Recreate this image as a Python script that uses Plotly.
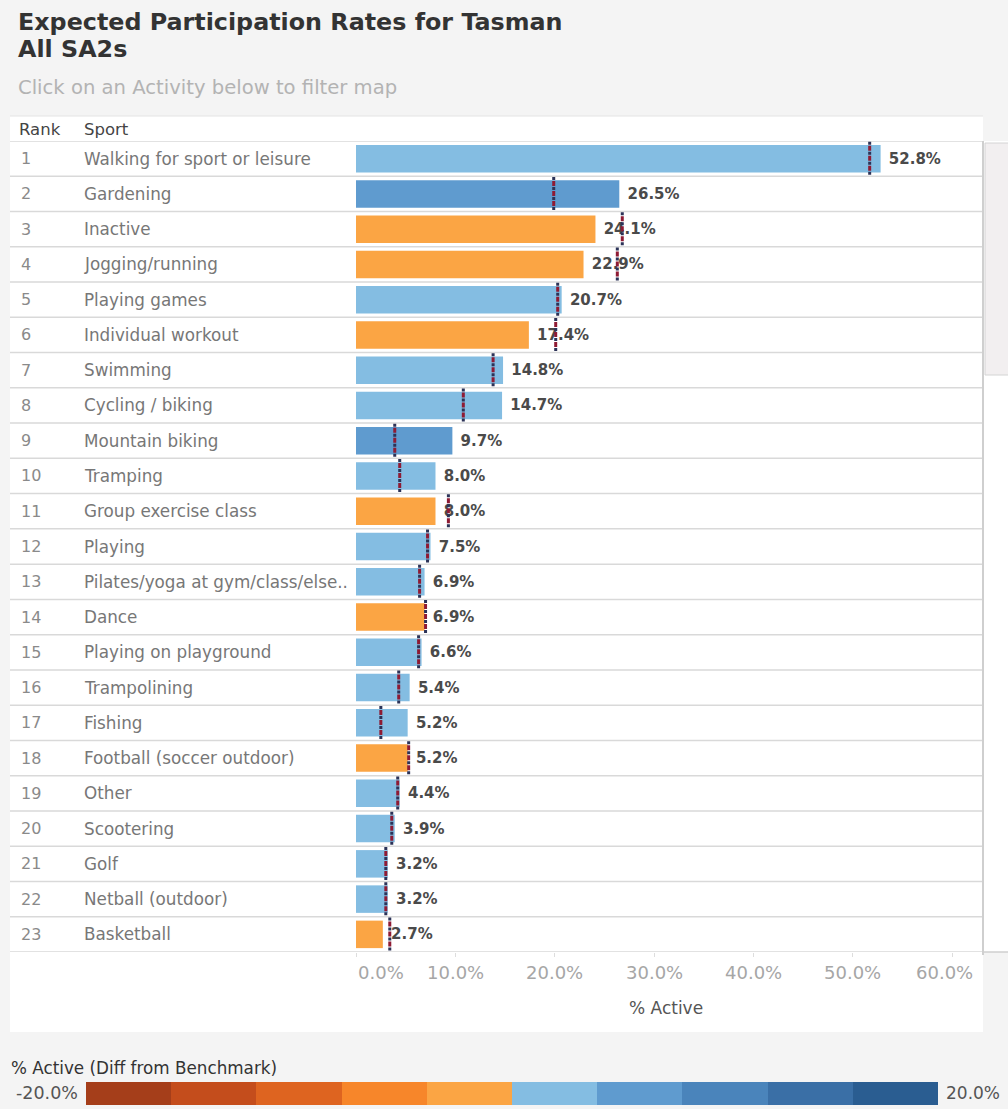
import plotly.graph_objects as go

# ---------------- data ----------------
ranks = list(range(1, 24))
sports = [
    "Walking for sport or leisure", "Gardening", "Inactive", "Jogging/running",
    "Playing games", "Individual workout", "Swimming", "Cycling / biking",
    "Mountain biking", "Tramping", "Group exercise class", "Playing",
    "Pilates/yoga at gym/class/else..", "Dance", "Playing on playground",
    "Trampolining", "Fishing", "Football (soccer outdoor)", "Other",
    "Scootering", "Golf", "Netball (outdoor)", "Basketball",
]
pct_active = [52.8, 26.5, 24.1, 22.9, 20.7, 17.4, 14.8, 14.7, 9.7, 8.0, 8.0, 7.5,
              6.9, 6.9, 6.6, 5.4, 5.2, 5.2, 4.4, 3.9, 3.2, 3.2, 2.7]
benchmark = [51.7, 19.9, 26.8, 26.3, 20.3, 20.1, 13.8, 10.8, 3.9, 4.4, 9.3, 7.2,
             6.4, 7.0, 6.3, 4.3, 2.5, 5.3, 4.2, 3.6, 3.0, 3.0, 3.4]
x_ticks = [0, 10, 20, 30, 40, 50, 60]
x_tick_labels = ["0.0%", "10.0%", "20.0%", "30.0%", "40.0%", "50.0%", "60.0%"]
x_max = 62.3
legend_edges = [-20, -16, -12, -8, -4, 0, 4, 8, 12, 16, 20]
legend_colors = ["#a53e1a", "#c44d1c", "#de6420", "#f7862a", "#fba544",
                 "#84bde2", "#5f9bcf", "#4a84bb", "#3a6fa6", "#2a5d91"]

W, H = 1008, 1109
FONT = "DejaVu Sans, Liberation Sans, sans-serif"


def px_x(p):
    return p / W


def px_y(p):
    return 1 - p / H


def bin_color(d):
    for i in range(len(legend_colors)):
        if legend_edges[i] <= d < legend_edges[i + 1]:
            return legend_colors[i]
    return legend_colors[0] if d < legend_edges[0] else legend_colors[-1]


diffs = [v - b for v, b in zip(pct_active, benchmark)]
bar_colors = [bin_color(d) for d in diffs]

fig = go.Figure()

# bars
fig.add_trace(go.Bar(
    x=pct_active, y=ranks, orientation="h",
    marker=dict(color=bar_colors, line=dict(width=0)),
    width=0.78,
    texttemplate=" %{x:.1f}%", textposition="outside",
    textfont=dict(family=FONT, size=15, color="#4a4a4a", weight="bold"),
    cliponaxis=False, showlegend=False, hoverinfo="skip",
))

# benchmark marks (alternating navy / dark red dashes)
bx, by = [], []
for r, b in zip(ranks, benchmark):
    bx += [b, b, None]
    by += [r - 0.48, r + 0.48, None]
fig.add_trace(go.Scatter(
    x=bx, y=by, mode="lines",
    line=dict(color="#2c3358", width=3, dash="3px,7px"),
    showlegend=False, hoverinfo="skip",
))
fig.add_trace(go.Scatter(
    x=bx, y=by, mode="lines",
    line=dict(color="#8e1b34", width=3, dash="0px,4px,5px,1px"),
    showlegend=False, hoverinfo="skip",
))

# legend colour strip
mids = [(legend_edges[i] + legend_edges[i + 1]) / 2 for i in range(len(legend_colors))]
cs = []
for i, c in enumerate(legend_colors):
    cs.append([i / len(legend_colors), c])
    cs.append([(i + 1) / len(legend_colors), c])
fig.add_trace(go.Heatmap(
    z=[mids], x=mids, y=[0], zmin=legend_edges[0], zmax=legend_edges[-1],
    colorscale=cs, showscale=False, xaxis="x2", yaxis="y2", hoverinfo="skip",
))

shapes = []
# white panel
shapes.append(dict(type="rect", xref="paper", yref="paper",
                   x0=px_x(10), x1=px_x(983), y0=px_y(1032), y1=px_y(116),
                   fillcolor="white", line=dict(width=0), layer="below"))
# scrollbar track + thumb
shapes.append(dict(type="rect", xref="paper", yref="paper",
                   x0=px_x(983), x1=1, y0=px_y(952), y1=px_y(141),
                   fillcolor="white", line=dict(width=0), layer="below"))
shapes.append(dict(type="rect", xref="paper", yref="paper",
                   x0=px_x(985), x1=1.01, y0=px_y(375), y1=px_y(143),
                   fillcolor="#f2eff0", line=dict(color="#d4d4d4", width=1), layer="below"))
shapes.append(dict(type="line", xref="paper", yref="paper",
                   x0=px_x(983), x1=px_x(983), y0=px_y(955), y1=px_y(141),
                   line=dict(color="#cfcfcf", width=2)))
shapes.append(dict(type="line", xref="paper", yref="paper",
                   x0=px_x(983), x1=1, y0=px_y(952), y1=px_y(952),
                   line=dict(color="#cfcfcf", width=1.5)))
# header top line
shapes.append(dict(type="line", xref="paper", yref="paper",
                   x0=px_x(10), x1=px_x(983), y0=px_y(116), y1=px_y(116),
                   line=dict(color="#e4e4e4", width=1)))
# row separators
for r in [0] + ranks:
    shapes.append(dict(type="line", xref="paper", yref="y",
                       x0=px_x(10), x1=px_x(983), y0=r + 0.5, y1=r + 0.5,
                       line=dict(color="#d9d9d9", width=1.5), layer="below"))

annotations = []
annotations.append(dict(text="<b>Expected Participation Rates for Tasman</b>", xref="paper", yref="paper",
                        x=px_x(16), y=px_y(22), xanchor="left", yanchor="middle", showarrow=False,
                        font=dict(family=FONT, size=23.8, color="#333")))
annotations.append(dict(text="<b>All SA2s</b>", xref="paper", yref="paper",
                        x=px_x(16), y=px_y(49), xanchor="left", yanchor="middle", showarrow=False,
                        font=dict(family=FONT, size=23.8, color="#333")))
annotations.append(dict(text="Click on an Activity below to filter map", xref="paper", yref="paper",
                        x=px_x(16), y=px_y(87), xanchor="left", yanchor="middle", showarrow=False,
                        font=dict(family=FONT, size=19.6, color="#b3b3b3")))
annotations.append(dict(text="Rank", xref="paper", yref="paper",
                        x=px_x(17), y=px_y(130), xanchor="left", yanchor="middle", showarrow=False,
                        font=dict(family=FONT, size=16.5, color="#444")))
annotations.append(dict(text="Sport", xref="paper", yref="paper",
                        x=px_x(82), y=px_y(130), xanchor="left", yanchor="middle", showarrow=False,
                        font=dict(family=FONT, size=16.5, color="#444")))
for r, s in zip(ranks, sports):
    annotations.append(dict(text=str(r), xref="paper", yref="y", x=px_x(19), y=r,
                            xanchor="left", yanchor="middle", showarrow=False,
                            font=dict(family=FONT, size=16, color="#8a8a8a")))
    annotations.append(dict(text=s, xref="paper", yref="y", x=px_x(82), y=r,
                            xanchor="left", yanchor="middle", showarrow=False,
                            font=dict(family=FONT, size=16.8, color="#777")))
# x tick labels (end labels kept inside the axis, as in the original)
for i, (tv, tl) in enumerate(zip(x_ticks, x_tick_labels)):
    if i == 0:
        ax, anc = tv, "left"
    elif i == len(x_ticks) - 1:
        ax, anc = x_max, "right"
    else:
        ax, anc = tv, "center"
    annotations.append(dict(text=tl, xref="x", yref="paper", x=ax, y=px_y(972),
                            xanchor=anc, yanchor="middle", showarrow=False,
                            font=dict(family=FONT, size=18, color="#a6a6a6")))
annotations.append(dict(text="% Active", xref="paper", yref="paper",
                        x=px_x(666), y=px_y(1008), xanchor="center", yanchor="middle", showarrow=False,
                        font=dict(family=FONT, size=17, color="#555")))
annotations.append(dict(text="% Active (Diff from Benchmark)", xref="paper", yref="paper",
                        x=px_x(9), y=px_y(1068), xanchor="left", yanchor="middle", showarrow=False,
                        font=dict(family=FONT, size=16.8, color="#333")))
annotations.append(dict(text=f"{legend_edges[0]:.1f}%", xref="paper", yref="paper",
                        x=px_x(80), y=px_y(1093), xanchor="right", yanchor="middle", showarrow=False,
                        font=dict(family=FONT, size=17.5, color="#555")))
annotations.append(dict(text=f"{legend_edges[-1]:.1f}%", xref="paper", yref="paper",
                        x=px_x(944), y=px_y(1093), xanchor="left", yanchor="middle", showarrow=False,
                        font=dict(family=FONT, size=17, color="#555")))

fig.update_layout(
    width=W, height=H,
    margin=dict(l=0, r=0, t=0, b=0, autoexpand=False),
    paper_bgcolor="#f4f4f4",
    plot_bgcolor="rgba(0,0,0,0)",
    xaxis=dict(domain=[px_x(356), px_x(975)], range=[0, x_max],
               tickvals=x_ticks, showticklabels=False,
               ticks="outside", ticklen=4, tickcolor="#dddddd",
               automargin=False,
               showgrid=False, zeroline=False, showline=False, fixedrange=True),
    yaxis=dict(domain=[px_y(952), px_y(141)], range=[23.5, 0.5], automargin=False,
               showticklabels=False, showgrid=False, zeroline=False, ticks="",
               fixedrange=True),
    xaxis2=dict(domain=[px_x(86), px_x(938)], range=[legend_edges[0], legend_edges[-1]],
                visible=False, anchor="y2", fixedrange=True),
    yaxis2=dict(domain=[px_y(1105), px_y(1082)], range=[-0.5, 0.5],
                visible=False, anchor="x2", fixedrange=True),
    shapes=shapes,
    annotations=annotations,
    font=dict(family=FONT),
)

fig.write_html("out.html")
